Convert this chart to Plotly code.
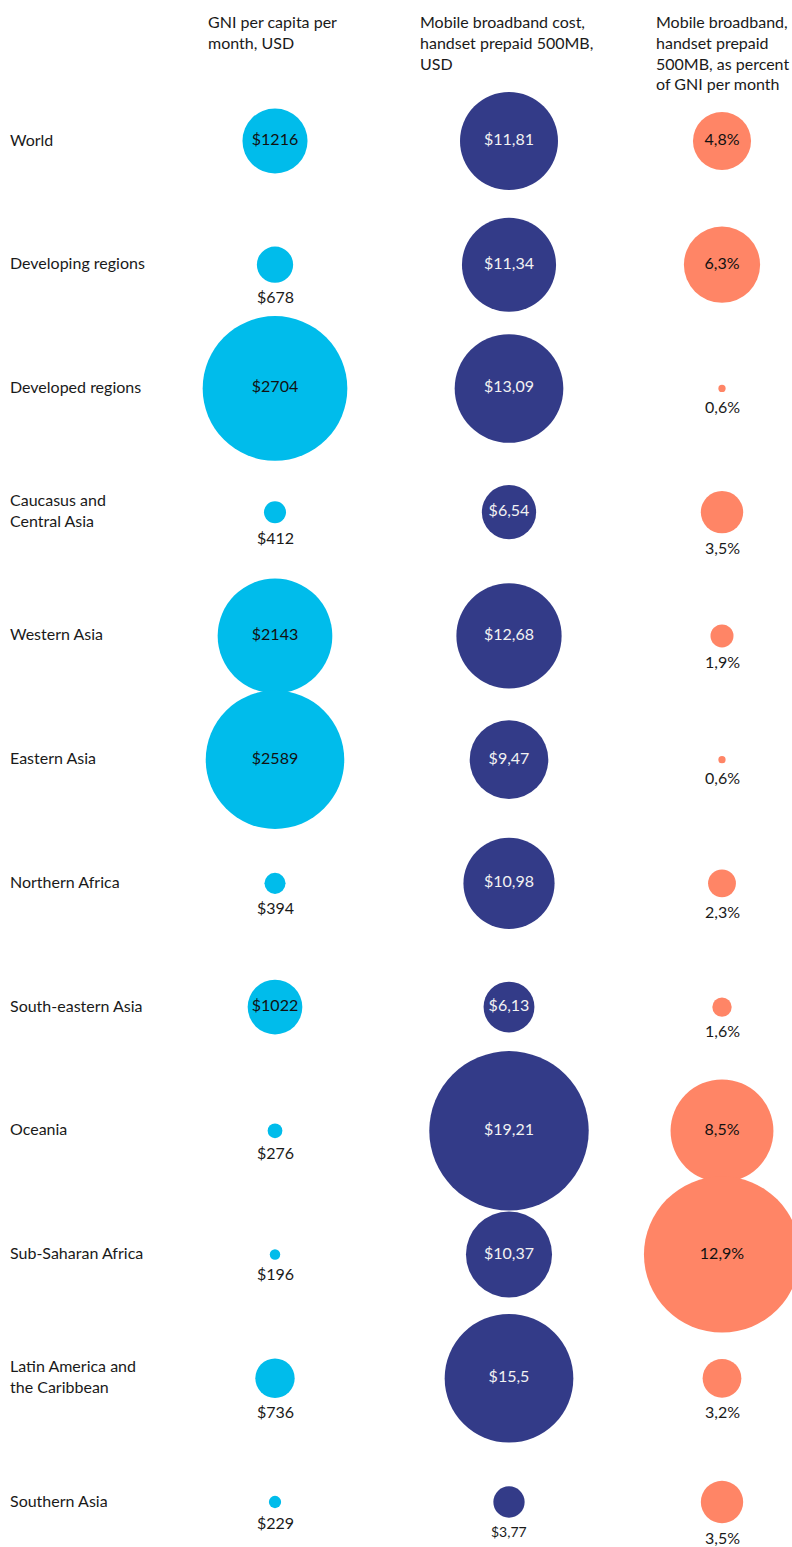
import plotly.graph_objects as go

regions = ["World", "Developing regions", "Developed regions", "Caucasus and<br>Central Asia",
           "Western Asia", "Eastern Asia", "Northern Africa", "South-eastern Asia", "Oceania",
           "Sub-Saharan Africa", "Latin America and<br>the Caribbean", "Southern Asia"]
gni = [1216, 678, 2704, 412, 2143, 2589, 394, 1022, 276, 196, 736, 229]
cost = [11.81, 11.34, 13.09, 6.54, 12.68, 9.47, 10.98, 6.13, 19.21, 10.37, 15.5, 3.77]
pct = [4.8, 6.3, 0.6, 3.5, 1.9, 0.6, 2.3, 1.6, 8.5, 12.9, 3.2, 3.5]
headers = ["GNI per capita per<br>month, USD",
           "Mobile broadband cost,<br>handset prepaid 500MB,<br>USD",
           "Mobile broadband,<br>handset prepaid<br>500MB, as percent<br>of GNI per month"]

CYAN = "#00BCEB"
NAVY = "#333B88"
SALMON = "#FF8566"
FONT = "Lato"
WEIGHT = 400
TXT = "#1A1A1A"
W, H = 792, 1547

cols = [
    dict(vals=gni, labels=["$%d" % v for v in gni], color=CYAN, k=0.0535, thr=50,
         incol="#111111", center=275, header_x=206, outsize=16),
    dict(vals=cost, labels=["$" + str(v).replace(".", ",") for v in cost], color=NAVY, k=8.3, thr=45,
         incol="#F2F2F2", center=509, header_x=418, outsize=14),
    dict(vals=pct, labels=[str(v).replace(".", ",") + "%" for v in pct], color=SALMON, k=12.1, thr=50,
         incol="#111111", center=722, header_x=654, outsize=16),
]

fig = go.Figure()
half = 0.08
for i, c in enumerate(cols):
    axn = "" if i == 0 else str(i + 1)
    diam = [v * c["k"] for v in c["vals"]]
    inside = [d >= c["thr"] for d in diam]
    fig.add_trace(go.Scatter(
        x=[headers[i]] * len(regions), y=regions,
        mode="markers+text",
        marker=dict(size=c["vals"], sizemode="diameter", sizeref=1.0 / c["k"],
                    color=c["color"], line=dict(width=0), opacity=1),
        text=[lab if ins else "" for lab, ins in zip(c["labels"], inside)],
        textposition="middle center",
        textfont=dict(family=FONT, size=16, color=c["incol"], weight=WEIGHT),
        cliponaxis=False, showlegend=False, hoverinfo="skip",
        xaxis="x" + axn, yaxis="y",
    ))
    # labels below small bubbles
    for r, lab, d, ins in zip(regions, c["labels"], diam, inside):
        if not ins:
            fig.add_annotation(xref="x" + axn, yref="y", x=headers[i], y=r,
                               text=lab, showarrow=False, xanchor="center", yanchor="middle",
                               yshift=-(d / 2 + 14),
                               font=dict(family=FONT, size=c["outsize"], color=TXT, weight=WEIGHT))
    cx = c["center"] / W
    fig.layout["xaxis" + axn] = dict(domain=[cx - half, cx + half], range=[-0.5, 0.5],
                                      visible=False, type="category", fixedrange=True)
    fig.add_annotation(xref="paper", yref="paper", x=c["header_x"] / W, y=1 - 10 / H,
                       xanchor="left", yanchor="top", align="left", showarrow=False,
                       text=headers[i], font=dict(family=FONT, size=16, color=TXT, weight=WEIGHT))

# y axis: row centres at 141 px (first) and 1502 px (last)
top_px, bot_px = 141, 1502
step = (bot_px - top_px) / (len(regions) - 1)
r_top = -top_px / step
r_bot = (H - top_px) / step
fig.update_layout(
    yaxis=dict(type="category", categoryorder="array", categoryarray=regions,
               range=[r_bot, r_top], visible=False, fixedrange=True),
)

for r in regions:
    fig.add_annotation(xref="paper", yref="y", x=8 / W, y=r, xanchor="left", yanchor="middle",
                       align="left", showarrow=False, text=r, yshift=2,
                       font=dict(family=FONT, size=16, color=TXT, weight=WEIGHT))

fig.update_layout(width=W, height=H, margin=dict(l=0, r=0, t=0, b=0),
                  paper_bgcolor="white", plot_bgcolor="white")
fig.write_html("out.html")
